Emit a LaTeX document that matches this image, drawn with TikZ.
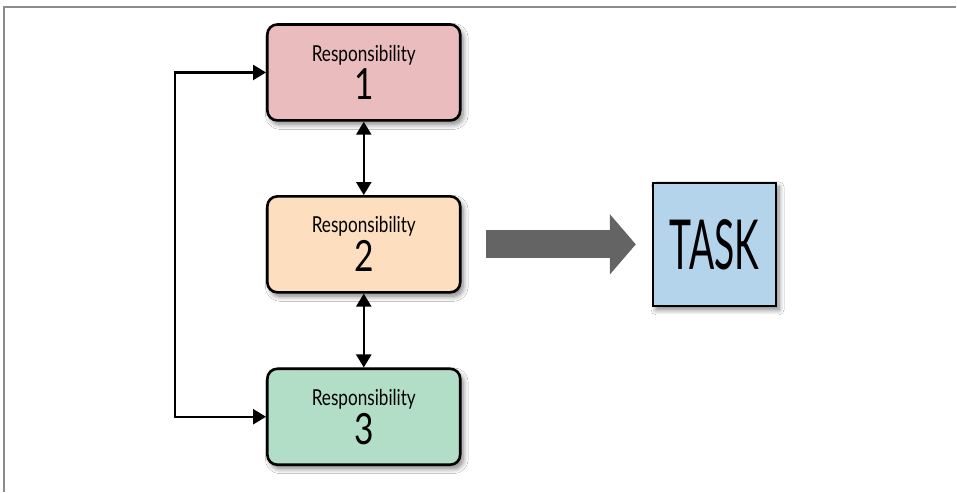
\documentclass[tikz,border=0pt]{standalone}
\usepackage{fontspec}
\setmainfont{Lato}[FakeStretch=0.78]
\newfontfamily\taskfont{Lato}[FakeStretch=0.54]
\usetikzlibrary{arrows.meta,shadows.blur}
\definecolor{respPink}{HTML}{EBBCBE}
\definecolor{respPeach}{HTML}{FDDFBF}
\definecolor{respGreen}{HTML}{B2DEC8}
\definecolor{taskBlue}{HTML}{B3D4EA}
\definecolor{flowGray}{HTML}{646464}
\definecolor{frameGray}{HTML}{8C8C8C}
\newcommand{\respname}[1]{{\fontsize{22}{24}\selectfont Responsibility}\\[3pt]{\fontsize{43}{43}\selectfont #1}}

\begin{document}
\begin{tikzpicture}[x=1pt,y=-1pt,line cap=butt,line join=miter]
\path[fill=white] (0,0) rectangle (957,492);
\tikzset{respbox/.style={draw=black,line width=2.6pt,rounded corners=10pt,minimum width=193pt,minimum height=96pt,align=center,inner sep=0pt,blur shadow={shadow xshift=3pt,shadow yshift=-4pt,shadow blur steps=8,shadow blur radius=5pt,shadow opacity=50}},taskbox/.style={draw=black,line width=2.6pt,minimum size=123pt,inner sep=0pt,blur shadow={shadow xshift=3pt,shadow yshift=-4pt,shadow blur steps=8,shadow blur radius=5pt,shadow opacity=50}},conn/.style={draw=black,line width=2.4pt,{Triangle[length=13pt,width=15pt]}-{Triangle[length=13pt,width=15pt]}},flow/.style={draw=flowGray,line width=28pt,-{Triangle[length=26pt,width=59pt]}}}
% frame of the figure
\draw[frameGray,line width=1.2pt] (4,492) -- (4,7) -- (957,7);
% the three responsibilities
\node[respbox,fill=respPink] (resp1) at (364,72.5) {\respname{1}};
\node[respbox,fill=respPeach] (resp2) at (364,244.5) {\respname{2}};
\node[respbox,fill=respGreen] (resp3) at (364,417) {\respname{3}};
\node[taskbox,fill=taskBlue,font=\taskfont\fontsize{69}{69}\selectfont] (task) at (715,244.5) {TASK};
% links
\draw[conn] (resp1) -- (resp2);
\draw[conn] (resp2) -- (resp3);
\draw[conn] (resp1.west) -- ++(-91pt,0) |- (resp3.west);
\draw[flow] ([xshift=24pt]resp2.east) -- ([xshift=-16pt]task.west);
\end{tikzpicture}
\end{document}
